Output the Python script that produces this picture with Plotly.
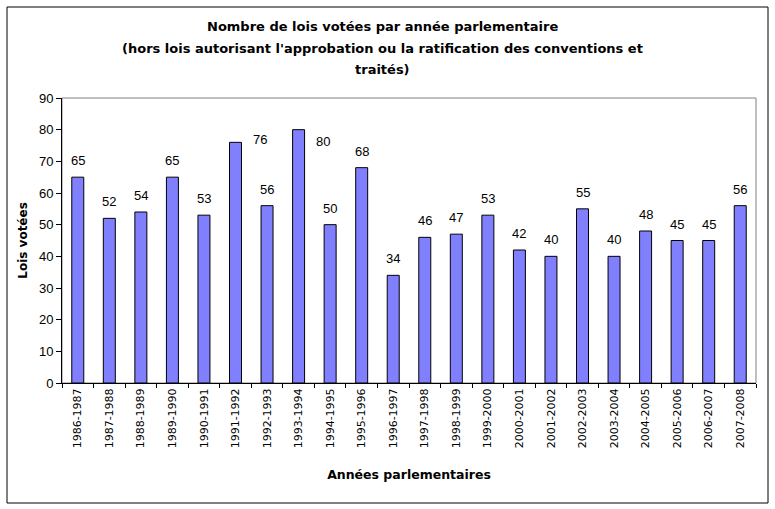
import plotly.graph_objects as go

categories = ["1986-1987", "1987-1988", "1988-1989", "1989-1990", "1990-1991",
              "1991-1992", "1992-1993", "1993-1994", "1994-1995", "1995-1996",
              "1996-1997", "1997-1998", "1998-1999", "1999-2000", "2000-2001",
              "2001-2002", "2002-2003", "2003-2004", "2004-2005", "2005-2006",
              "2006-2007", "2007-2008"]
lois_votees = [65, 52, 54, 65, 53, 76, 56, 80, 50, 68, 34, 46, 47, 53, 42, 40,
               55, 40, 48, 45, 45, 56]
y_ticks = [0, 10, 20, 30, 40, 50, 60, 70, 80, 90]
title_lines = ["Nombre de lois votées par année parlementaire",
               "(hors lois autorisant l'approbation ou la ratification des conventions et",
               "traités)"]

FONT = "Liberation Sans, Arial, sans-serif"
WIDE = "DejaVu Sans, Verdana, sans-serif"

# plot area in pixels: left 62, right 756, top 98, bottom 383
PW, PH = 694, 285


def py(pix):
    return (383 - pix) / PH


def px(pix):
    return (pix - 62) / PW


fig = go.Figure()
fig.add_trace(go.Bar(
    x=categories, y=lois_votees,
    marker=dict(color="#8080FF", line=dict(color="#000000", width=1)),
    hoverinfo="x+y",
))

annotations = []
for c, v in zip(categories, lois_votees):
    if v >= 75:
        # Excel pushed the tallest labels aside
        ys = 3 if v < 78 else -12
        annotations.append(dict(x=c, y=v, xref="x", yref="y", text=str(v),
                                showarrow=False, xshift=24, yshift=ys,
                                yanchor="middle",
                                font=dict(family=FONT, size=13, color="#000")))
    else:
        annotations.append(dict(x=c, y=v, xref="x", yref="y", text=str(v),
                                showarrow=False, yshift=7, yanchor="bottom",
                                font=dict(family=FONT, size=13, color="#000")))

for line, ypix in zip(title_lines, [27, 49, 70]):
    annotations.append(dict(x=px(382), y=py(ypix), xref="paper", yref="paper",
                            text="<b>" + line + "</b>", showarrow=False,
                            xanchor="center", yanchor="middle",
                            font=dict(family=WIDE, size=13, color="#000")))

fig.update_layout(
    width=775, height=509,
    margin=dict(l=62, r=19, t=98, b=126),
    paper_bgcolor="white", plot_bgcolor="white",
    showlegend=False,
    bargap=0.62,
    font=dict(family=FONT, size=12, color="#000"),
    xaxis=dict(
        type="category",
        showline=True, linecolor="#000", linewidth=1,
        ticks="outside", ticklen=4, tickcolor="#000", tickson="boundaries",
        tickangle=-90, tickfont=dict(family=WIDE, size=11),
        showgrid=False,
        title=dict(text="<b>Années parlementaires</b>", standoff=22,
                   font=dict(family=WIDE, size=12.5)),
    ),
    yaxis=dict(
        range=[0, 90], tickvals=y_ticks,
        showline=True, linecolor="#000", linewidth=1,
        ticks="outside", ticklen=5, tickcolor="#000",
        showgrid=False, zeroline=False,
        tickfont=dict(family=FONT, size=13),
        title=dict(text="<b>Lois votées</b>", standoff=8,
                   font=dict(family=WIDE, size=12)),
    ),
    annotations=annotations,
    shapes=[
        dict(type="rect", xref="paper", yref="paper", x0=0, x1=1, y0=0, y1=1,
             line=dict(color="#808080", width=1), layer="below"),
        dict(type="rect", xref="paper", yref="paper",
             x0=px(7), x1=px(768), y0=py(503), y1=py(7),
             line=dict(color="#000", width=1), layer="below"),
    ],
)

fig.write_html("out.html", config={"displayModeBar": False},
               post_script="document.body.style.margin='0';document.body.style.padding='0';")
